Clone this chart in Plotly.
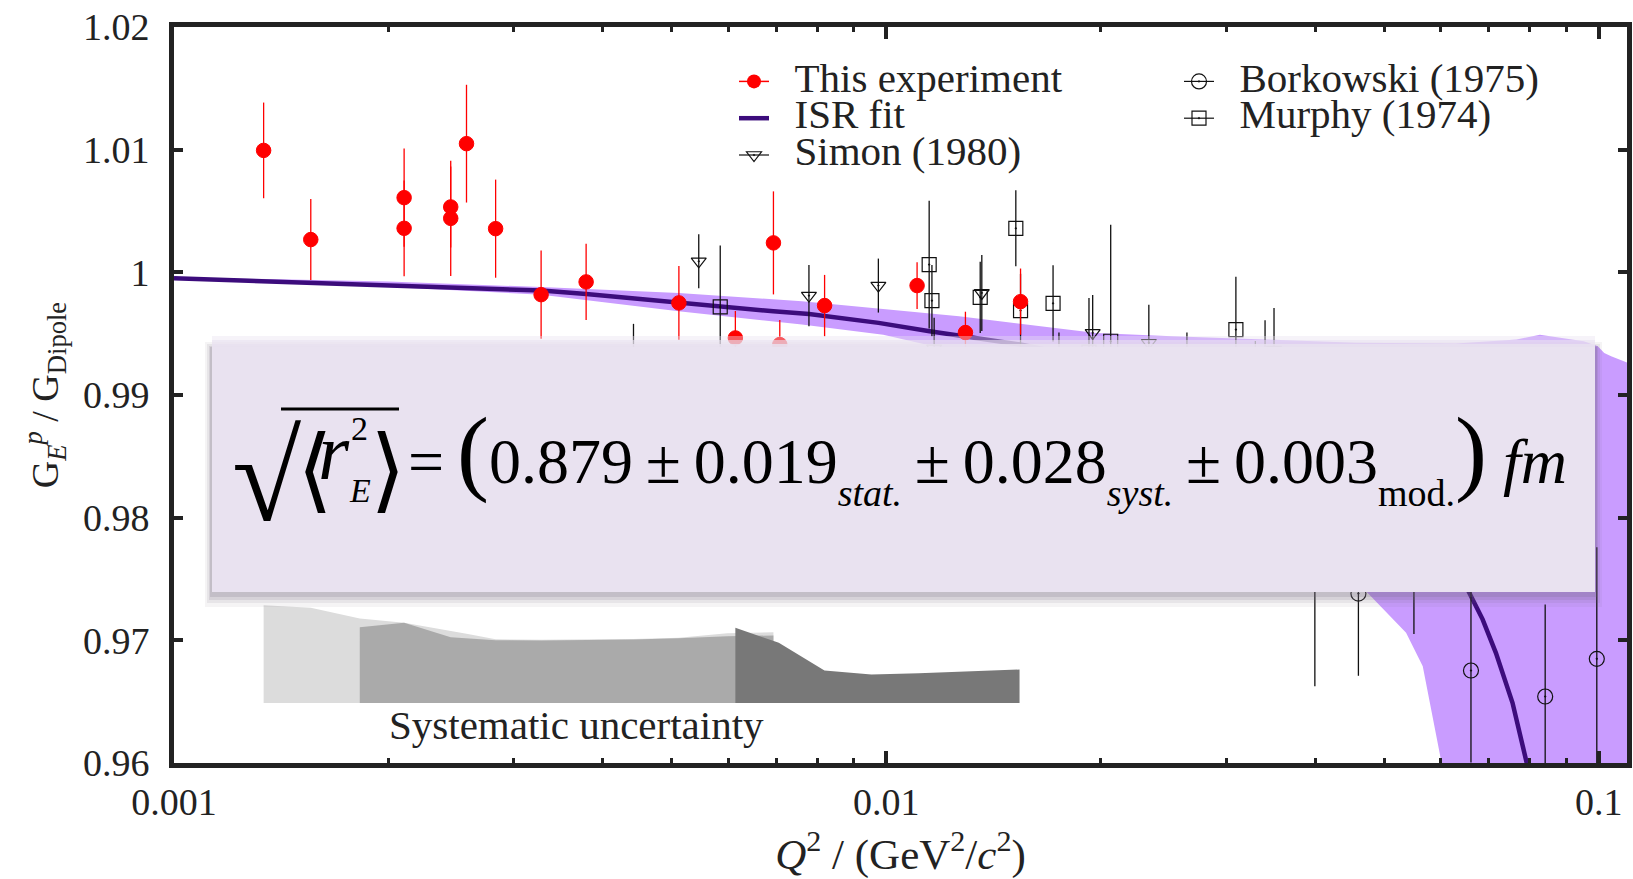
import plotly.graph_objects as go

# ---------------- data ----------------
exp_q2 = [0.001336, 0.001556, 0.002104, 0.002104, 0.002446, 0.002446, 0.002574, 0.002828,
          0.003276, 0.003789, 0.005114, 0.006138, 0.006942, 0.007086, 0.008190, 0.011044,
          0.012912, 0.015430]
exp_g = [1.00994, 1.00267, 1.00609, 1.00359, 1.00533, 1.00440, 1.01049, 1.00356,
         0.99818, 0.99922, 0.99751, 0.99465, 1.00240, 0.99411, 0.99729, 0.99892,
         0.99509, 0.99761]
exp_err = [0.0039, 0.0033, 0.0040, 0.0039, 0.0033, 0.0047, 0.0048, 0.0040,
           0.0036, 0.0031, 0.0030, 0.0022, 0.0042, 0.0020, 0.0025, 0.0019,
           0.0017, 0.0027]

simon_q2 = [0.004416, 0.005453, 0.007786, 0.009745, 0.01167, 0.013614, 0.01747, 0.019482,
            0.02336, 0.02642, 0.03296, 0.03401, 0.03501]
simon_g = [0.9925, 1.00090, 0.99810, 0.99892, 0.9938, 0.99832, 0.9925, 0.99506,
           0.99425, 0.9925, 0.9920, 0.9915, 0.9937]
simon_err = [0.0033, 0.0022, 0.0025, 0.0022, 0.0025, 0.0031, 0.0026, 0.0031,
             0.0031, 0.0026, 0.0024, 0.0046, 0.0034]

murphy_q2 = [0.005845, 0.011484, 0.011587, 0.013544, 0.015196, 0.01543, 0.01714, 0.01925,
             0.02065, 0.03095]
murphy_g = [0.99718, 1.00063, 0.99769, 0.99796, 1.00359, 0.99688, 0.99747, 0.9935,
            0.99438, 0.99533]
murphy_err = [0.0050, 0.0052, 0.0029, 0.0029, 0.0031, 0.0030, 0.0031, 0.0044,
              0.0095, 0.0043]

bork_q2 = [0.03995, 0.04599, 0.05503, 0.06617, 0.08411, 0.09938]
bork_g = [0.97496, 0.97381, 0.97471, 0.96754, 0.96542, 0.96849]
bork_err = [0.0087, 0.0067, 0.0042, 0.0075, 0.0075, 0.0091]

isr_q2 = [0.0010, 0.00156, 0.0021, 0.00328, 0.00379, 0.00511, 0.00585, 0.00694, 0.00779,
          0.00975, 0.01150, 0.01290, 0.01543, 0.020, 0.025, 0.030, 0.035, 0.040, 0.045,
          0.050, 0.055, 0.060, 0.06512, 0.06871, 0.07172, 0.07568, 0.07903, 0.0830]
isr_g = [0.99951, 0.99914, 0.99897, 0.99851, 0.99824, 0.99751, 0.99723, 0.99682, 0.99660,
         0.99588, 0.99519, 0.99478, 0.99411, 0.99280, 0.99140, 0.98990, 0.98830, 0.98650,
         0.98450, 0.98260, 0.98060, 0.97800, 0.97441, 0.97171, 0.96898, 0.96491, 0.96029,
         0.95500]

band_up_q2 = [0.0010, 0.0020, 0.00328, 0.00511, 0.00761, 0.0100, 0.01265, 0.0197, 0.02518,
              0.0350, 0.0456, 0.0630, 0.0767, 0.0827, 0.0953, 0.0997, 0.1018, 0.1041, 0.1099,
              0.1200]
band_up_g = [0.99960, 0.99925, 0.99880, 0.99832, 0.99764, 0.99700, 0.99641, 0.99506, 0.99478,
             0.99450, 0.99425, 0.99420, 0.99452, 0.99492, 0.99438, 0.99397, 0.99343, 0.99316,
             0.99262, 0.99200]
band_lo_q2 = [0.0010, 0.0020, 0.00328, 0.00511, 0.00761, 0.0099, 0.0150, 0.0200, 0.0250,
              0.0300, 0.0350, 0.0400, 0.04736, 0.05365, 0.05662, 0.06007, 0.0650, 0.1200]
band_lo_g = [0.99945, 0.99880, 0.99818, 0.99682, 0.99574, 0.99492, 0.9925, 0.9900, 0.9873,
             0.9843, 0.9810, 0.9777, 0.97387, 0.97061, 0.96789, 0.96029, 0.9500, 0.9000]

SYS_BASE = 0.9649
sys_light_q2 = [0.001336, 0.001556, 0.001823, 0.002104, 0.002574, 0.002828, 0.003276,
                0.003805, 0.004416, 0.005114, 0.005979, 0.006942]
sys_light_top = [0.97286, 0.97265, 0.97178, 0.97143, 0.97053, 0.97008, 0.97004,
                 0.97006, 0.97011, 0.97022, 0.97058, 0.97066]
sys_mid_q2 = [0.001823, 0.002104, 0.002446, 0.002828, 0.003276, 0.003805, 0.004416,
              0.005114, 0.005979, 0.006942]
sys_mid_top = [0.97107, 0.97143, 0.97025, 0.97001, 0.96998, 0.97001, 0.97006,
               0.97017, 0.97033, 0.97040]
sys_dark_q2 = [0.006138, 0.007063, 0.008187, 0.009528, 0.011104, 0.012883, 0.01538]
sys_dark_top = [0.97102, 0.96980, 0.96754, 0.96721, 0.96732, 0.96743, 0.96762]

x_ticks = [0.001, 0.01, 0.1]
x_tick_text = ["0.001", "0.01", "0.1"]
y_ticks = [0.96, 0.97, 0.98, 0.99, 1.00, 1.01, 1.02]
y_tick_text = ["0.96", "0.97", "0.98", "0.99", "1", "1.01", "1.02"]

# ---------------- layout geometry ----------------
W_PX, H_PX = 1633, 879
PL, PR, PT, PB = 174, 1627, 27, 763
FONT = "Liberation Serif, DejaVu Serif, serif"
INK = "#222222"


def px_x(p):
    return (p - PL) / (PR - PL)


def px_y(p):
    return (PB - p) / (PB - PT)


fig = go.Figure()

# systematic uncertainty bands
for q, top, col in [(sys_light_q2, sys_light_top, "#dcdcdc"),
                    (sys_mid_q2, sys_mid_top, "#aaaaaa"),
                    (sys_dark_q2, sys_dark_top, "#787878")]:
    fig.add_trace(go.Scatter(x=q + q[::-1], y=top + [SYS_BASE] * len(q), mode="lines",
                             fill="toself", fillcolor=col, line=dict(width=0),
                             showlegend=False, hoverinfo="skip"))

# ISR fit band and line
fig.add_trace(go.Scatter(x=band_up_q2 + band_lo_q2[::-1], y=band_up_g + band_lo_g[::-1],
                         mode="lines", fill="toself", fillcolor="#c99cff",
                         line=dict(width=0), showlegend=False, hoverinfo="skip"))
fig.add_trace(go.Scatter(x=isr_q2, y=isr_g, mode="lines", line=dict(color="#3c0c7c", width=4.5),
                         showlegend=False))


def pts(x, y, e, sym, size, color, lw):
    return go.Scatter(x=x, y=y, mode="markers",
                      marker=dict(symbol=sym, size=size, color=color,
                                  line=dict(color=color, width=lw)),
                      error_y=dict(type="data", array=e, color=color, thickness=1.3, width=0),
                      showlegend=False)


fig.add_trace(pts(simon_q2, simon_g, simon_err, "triangle-down-open-dot", 13, "#111111", 1.2))
fig.add_trace(pts(murphy_q2, murphy_g, murphy_err, "square-open-dot", 14, "#111111", 1.2))
fig.add_trace(pts(bork_q2, bork_g, bork_err, "circle-open-dot", 15, "#111111", 1.2))
fig.add_trace(pts(exp_q2, exp_g, exp_err, "circle", 14.5, "#ff0000", 1.0))


# legend entries
def lab(t):
    return "<span style='font-size:41px'>\u00a0\u00a0" + t + "</span>"


fig.add_trace(go.Scatter(x=[None], y=[None], mode="lines+markers", name=lab("This experiment"),
                         line=dict(color="#ff0000", width=1.5),
                         marker=dict(symbol="circle", size=14, color="#ff0000"), legend="legend"))
fig.add_trace(go.Scatter(x=[None], y=[None], mode="lines", name=lab("ISR fit"),
                         line=dict(color="#3c0c7c", width=4.5), legend="legend"))
fig.add_trace(go.Scatter(x=[None], y=[None], mode="lines+markers", name=lab("Simon (1980)"),
                         line=dict(color="#111111", width=1.2),
                         marker=dict(symbol="triangle-down-open-dot", size=13, color="#111111",
                                     line=dict(width=1.2, color="#111111")), legend="legend"))
fig.add_trace(go.Scatter(x=[None], y=[None], mode="lines+markers", name=lab("Borkowski (1975)"),
                         line=dict(color="#111111", width=1.2),
                         marker=dict(symbol="circle-open-dot", size=15, color="#111111",
                                     line=dict(width=1.2, color="#111111")), legend="legend2"))
fig.add_trace(go.Scatter(x=[None], y=[None], mode="lines+markers", name=lab("Murphy (1974)"),
                         line=dict(color="#111111", width=1.2),
                         marker=dict(symbol="square-open-dot", size=14, color="#111111",
                                     line=dict(width=1.2, color="#111111")), legend="legend2"))

# ---------------- overlay box with the radius result ----------------
shapes = []
# soft shadow (stronger towards the bottom)
for (x0, y0, x1, y1, c) in [(205, 342, 1602, 607, "rgba(110,100,120,0.07)"),
                            (207, 344, 1600, 603, "rgba(110,100,120,0.10)"),
                            (209, 346, 1598, 600, "rgba(110,100,120,0.14)"),
                            (210, 347, 1597, 597, "rgba(110,100,120,0.18)")]:
    shapes.append(dict(type="rect", xref="paper", yref="paper", layer="above",
                       x0=px_x(x0), x1=px_x(x1), y0=px_y(y1), y1=px_y(y0),
                       fillcolor=c, line=dict(width=0)))
# soft upper fade
for (y0, c) in [(336, "rgba(233,226,240,0.4)"), (340, "rgba(233,226,240,0.6)"),
                (344, "rgba(233,226,240,0.85)")]:
    shapes.append(dict(type="rect", xref="paper", yref="paper", layer="above",
                       x0=px_x(212), x1=px_x(1595), y0=px_y(592), y1=px_y(y0),
                       fillcolor=c, line=dict(width=0)))
shapes.append(dict(type="rect", xref="paper", yref="paper", layer="above",
                   x0=px_x(212), x1=px_x(1595), y0=px_y(592), y1=px_y(347),
                   fillcolor="#e9e2f0", line=dict(width=0)))
# radical overline
shapes.append(dict(type="line", xref="paper", yref="paper", layer="above",
                   x0=px_x(281), x1=px_x(399), y0=px_y(409), y1=px_y(409),
                   line=dict(color="#000000", width=3)))

ann = []


def txt(text, x, y, size, xa="left", ya="middle", color="#000000", family=FONT):
    ann.append(dict(text=text, x=px_x(x), y=px_y(y), xref="paper", yref="paper",
                    xanchor=xa, yanchor=ya, showarrow=False,
                    font=dict(family=family, size=size, color=color)))


txt("\u221a", 230, 477, 126)
txt("\u27e8", 295, 470, 92)
txt("<i>r</i>", 316, 452, 80)
txt("2", 359, 428, 34, xa="center")
txt("<i>E</i>", 360, 490, 34, xa="center")
txt("\u27e9", 368, 470, 92)

TS = "\u2009"
sub = "<sub><sub><span style='font-size:38px'>{}</span></sub></sub>"
par = "<span style='font-size:96px'>{}</span>"
main = ("=" + TS + par.format("(") + "0.879" + TS + "\u00b1" + TS + "0.019" + sub.format("<i>stat.</i>") +
        TS + "\u00b1" + TS + "0.028" + sub.format("<i>syst.</i>") +
        TS + "\u00b1" + TS + "0.003" + sub.format("mod.") +
        par.format(")") + " <i>fm</i>")
txt(main, 406, 455, 64)

txt("Systematic uncertainty", 576, 725, 41, xa="center", color=INK)

fig.update_layout(
    width=W_PX, height=H_PX,
    margin=dict(l=PL, r=W_PX - PR, t=PT, b=H_PX - PB, autoexpand=False),
    paper_bgcolor="white", plot_bgcolor="white",
    font=dict(family=FONT, color=INK, size=36),
    shapes=shapes, annotations=ann,
    legend=dict(x=px_x(734), y=px_y(58), xanchor="left", yanchor="top",
                bgcolor="rgba(0,0,0,0)", font=dict(size=26, family=FONT, color=INK),
                tracegroupgap=0, itemclick=False),
    legend2=dict(x=px_x(1179), y=px_y(58), xanchor="left", yanchor="top",
                 bgcolor="rgba(0,0,0,0)", font=dict(size=26, family=FONT, color=INK),
                 tracegroupgap=0, itemclick=False),
)

fig.update_xaxes(type="log", range=[-3, -0.9603], tickvals=x_ticks, ticktext=x_tick_text,
                 ticks="inside", ticklen=12, tickwidth=3.5, tickcolor=INK,
                 showline=True, linewidth=5, linecolor=INK, mirror="ticks",
                 showgrid=False, zeroline=False, ticklabelstandoff=1,
                 tickfont=dict(size=38, family=FONT, color=INK),
                 minor=dict(ticks="inside", ticklen=5, tickwidth=3, tickcolor=INK,
                            dtick="D1", showgrid=False),
                 title=dict(text="<i>Q</i><sup>2</sup> / (GeV<sup>2</sup>/<i>c</i><sup>2</sup>)",
                            font=dict(size=43, family=FONT, color=INK), standoff=19))
fig.update_yaxes(range=[0.96, 1.02], tickvals=y_ticks, ticktext=y_tick_text,
                 ticks="inside", ticklen=9, tickwidth=4, tickcolor=INK,
                 showline=True, linewidth=5, linecolor=INK, mirror="ticks",
                 showgrid=False, zeroline=False, ticklabelstandoff=12,
                 tickfont=dict(size=38, family=FONT, color=INK),
                 title=dict(text="G<sub><i>E</i></sub><sup><i>p</i></sup> / G<sub>Dipole</sub>",
                            font=dict(size=38, family=FONT, color=INK), standoff=14))

fig.write_html("out.html")
